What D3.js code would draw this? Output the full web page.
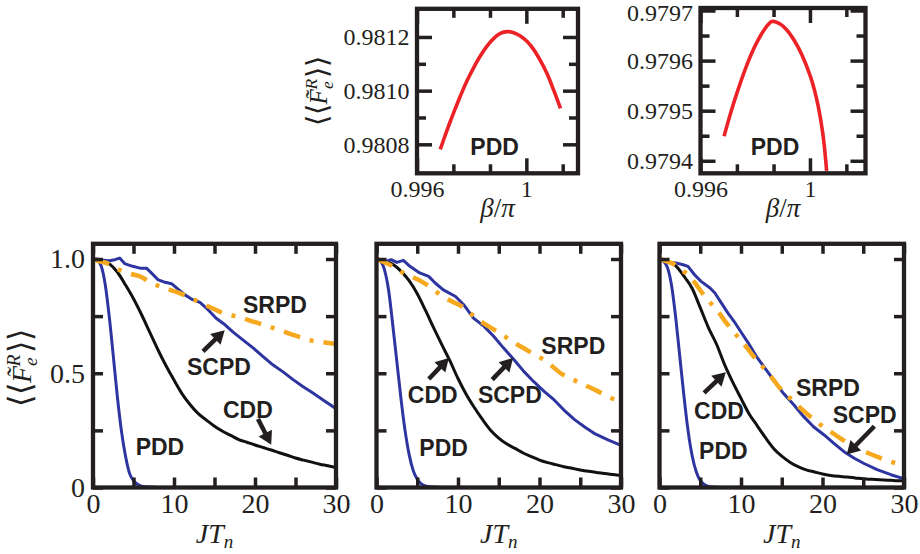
<!DOCTYPE html>
<html><head><meta charset="utf-8">
<script src="https://cdn.jsdelivr.net/npm/d3@7/dist/d3.min.js"></script>
<style>body{margin:0;background:#fff}svg{display:block}</style>
</head><body>
<script>
// ---------------- DATA ----------------
// Bottom panels: x = J*T_n, y = <<F_e^R>>
const pddA = [[0,1],[0.5,0.995],[1,0.97],[1.5,0.89],[2,0.75],[2.5,0.578],[3,0.40],[3.5,0.25],[4,0.14],[4.5,0.063],[5,0.03],[5.5,0.014],[6,0.006],[7,0.002],[8,0],[30,0]];
const cddA = [[0,1],[1,0.997],[2,0.98],[3,0.943],[4,0.887],[5,0.826],[6,0.756],[7,0.68],[8,0.604],[9,0.534],[10,0.47],[11,0.41],[12,0.362],[13,0.323],[14,0.295],[15,0.268],[16,0.246],[17,0.228],[18,0.21],[19,0.198],[20,0.186],[21,0.175],[22,0.164],[23,0.152],[24,0.141],[25,0.129],[26,0.12],[27,0.111],[28,0.102],[29,0.095],[30,0.087]];
const scpdA = [[0,1],[1.2,0.995],[2,0.992],[2.7,0.997],[3.3,1.004],[3.9,0.98],[4.9,0.968],[5.8,0.96],[6.6,0.96],[7.2,0.939],[8,0.91],[8.9,0.898],[9.7,0.892],[10.5,0.868],[11.3,0.844],[12.3,0.822],[13.2,0.81],[14.2,0.778],[15.2,0.741],[16.3,0.712],[17.3,0.68],[18.5,0.646],[19.8,0.61],[21,0.573],[22.2,0.537],[23.5,0.505],[24.7,0.472],[25.9,0.442],[27.2,0.412],[28.4,0.383],[30,0.345]];
const srpdA = [[0,1],[0.8,0.99],[1.7,0.982],[2.7,0.962],[3.7,0.946],[4.7,0.935],[5.8,0.924],[7,0.9],[8.2,0.88],[9.5,0.865],[10.7,0.851],[12,0.83],[13.2,0.81],[14.4,0.79],[15.6,0.77],[17,0.755],[18.5,0.741],[19.8,0.726],[21,0.712],[22.5,0.695],[23.9,0.678],[25.2,0.662],[26.5,0.646],[28,0.638],[30,0.628]];

const pddB = [[0,1],[0.5,0.99],[1,0.95],[1.5,0.86],[2,0.71],[2.5,0.55],[3,0.39],[3.5,0.25],[4,0.145],[4.5,0.075],[5,0.036],[5.5,0.016],[6,0.007],[7,0.002],[8,0],[30,0]];
const cddB = [[0,1],[1,0.993],[2,0.977],[3,0.947],[4,0.905],[5,0.848],[6,0.776],[7,0.7],[8,0.626],[9,0.555],[10,0.477],[11,0.408],[12,0.35],[13,0.298],[14,0.251],[15,0.216],[16,0.19],[17,0.171],[18,0.151],[19,0.135],[20,0.12],[21,0.109],[22,0.1],[23,0.091],[24,0.084],[25,0.077],[26,0.071],[27,0.066],[28,0.061],[29,0.057],[30,0.053]];
const scpdB = [[0,1],[0.6,0.993],[1.2,0.99],[1.8,0.997],[2.5,0.985],[3.3,0.994],[4.1,0.968],[5.3,0.939],[6.4,0.924],[7.2,0.895],[8.2,0.865],[9.7,0.836],[10.7,0.8],[11.9,0.741],[13.2,0.705],[14.4,0.661],[15.6,0.61],[16.9,0.558],[18.1,0.507],[19.3,0.463],[20.6,0.42],[21.8,0.383],[23,0.339],[24.3,0.297],[25.5,0.266],[26.7,0.237],[28.4,0.208],[30,0.184]];
const srpdB = [[0,1],[1,0.985],[2,0.968],[3,0.945],[3.7,0.931],[4.6,0.918],[5.5,0.902],[6.7,0.875],[7.8,0.844],[9.2,0.815],[10.5,0.792],[11.6,0.76],[12.8,0.727],[14,0.7],[15.2,0.675],[16.4,0.645],[17.7,0.617],[19,0.59],[20.2,0.566],[21.4,0.535],[22.6,0.5],[24,0.474],[25.5,0.449],[27,0.424],[28.4,0.398],[30,0.374]];

const pddC = [[0,1],[0.5,0.99],[1,0.96],[1.5,0.88],[2,0.74],[2.5,0.57],[3,0.40],[3.5,0.25],[4,0.14],[4.5,0.07],[5,0.03],[5.5,0.013],[6,0.005],[7,0.001],[8,0],[30,0]];
const cddC = [[0,1],[1,0.99],[2,0.97],[3,0.925],[4,0.872],[5,0.787],[6,0.70],[7,0.627],[8,0.537],[9,0.46],[10,0.39],[11,0.322],[12,0.27],[13,0.218],[14,0.171],[15,0.137],[16,0.111],[17,0.091],[18,0.077],[19,0.068],[20,0.059],[21,0.053],[22,0.049],[23,0.046],[24,0.042],[25,0.038],[26,0.036],[27,0.034],[28,0.032],[29,0.03],[30,0.029]];
const scpdC = [[0,1],[0.6,0.99],[1.2,0.985],[2.1,0.982],[2.9,0.975],[3.5,0.968],[4.3,0.931],[5.1,0.902],[6.2,0.873],[6.8,0.851],[7.6,0.807],[8.4,0.763],[9.3,0.719],[10.1,0.675],[10.9,0.632],[11.9,0.573],[12.8,0.529],[14,0.471],[15.2,0.412],[16.5,0.361],[17.7,0.31],[18.9,0.266],[20.2,0.23],[21.4,0.193],[22.6,0.158],[23.9,0.128],[25.1,0.105],[26.7,0.078],[28.4,0.056],[30,0.038]];
const srpdC = [[0,1],[0.9,0.99],[1.9,0.975],[2.8,0.95],[3.7,0.924],[4.4,0.893],[5.1,0.858],[6.2,0.81],[7.4,0.76],[8.1,0.725],[8.9,0.69],[10,0.643],[11.1,0.595],[12,0.553],[13,0.515],[13.9,0.475],[14.8,0.434],[16,0.392],[17.1,0.354],[18.3,0.316],[19.5,0.281],[20.9,0.247],[22.2,0.215],[23.5,0.187],[24.9,0.161],[26.4,0.139],[27.8,0.12],[30,0.096]];

// Insets: x = beta/pi, y = <<F_e^R>> (PDD)
const inset1X = [0.99685,0.99704,0.99722,0.9974,0.99759,0.99783,0.99808,0.99832,0.99856,0.99881,0.99905,0.99929,0.99954,0.99978,1.00003,1.00027,1.00051,1.00076,1.001,1.00125];
const inset1Y = [0.980781,0.980836,0.980886,0.980933,0.980981,0.981037,0.981087,0.981130,0.981166,0.981195,0.981213,0.981220,0.981216,0.981204,0.981183,0.981153,0.981113,0.981063,0.981002,0.980934];
const inset2X = [0.99686,0.99711,0.99733,0.99755,0.99778,0.998,0.9983,0.99861,0.99891,0.99914,0.99945,0.9997,1.00002,1.00016,1.00029,1.00038,1.00046,1.00052,1.00057,1.00061];
const inset2Y = [0.979449,0.979497,0.979535,0.97957,0.979603,0.97963,0.979659,0.979678,0.979673,0.979662,0.979638,0.979612,0.979568,0.979542,0.979512,0.979486,0.979458,0.979432,0.979404,0.97938];

// Ticks
const mainXTicks = [0,5,10,15,20,25,30];
const mainXLabels = [0,10,20,30];
const mainYTicks = [0,0.25,0.5,0.75,1];
const mainYLabels = [0,0.5,1];
const insetXMajor = [0.996,1.0];
const insetXMinor = [0.99733,0.99867,1.00133];
const inset1YMajor = [0.9808,0.981,0.9812];
const inset1YMinor = [0.9809,0.9811];
const inset2YMajor = [0.9794,0.9795,0.9796,0.9797];
const inset2YMinor = [0.97945,0.97955,0.97965];

// Annotations (data coordinates)
const labelsA = [["SRPD",18.52,0.764],["SCPD",11.6,0.494],["CDD",16.05,0.304],["PDD",5.27,0.144]];
const arrowsA = [[13.58,0.596,16.26,0.688],[20.37,0.30,22.0,0.187]];
const labelsB = [["SRPD",20.23,0.586],["SCPD",12.44,0.37],["CDD",3.84,0.37],["PDD",5.26,0.137]];
const arrowsB = [[6.42,0.475,8.88,0.567],[14.2,0.472,16.75,0.567]];
const labelsC = [["SRPD",16.75,0.399],["SCPD",21.25,0.282],["CDD",4.24,0.301],["PDD",4.86,0.125]];
const arrowsC = [[5.47,0.414,8.14,0.504],[26.37,0.268,22.97,0.144]];

// ---------------- DRAW ----------------
const INK = "#231f20";
const BLUE = "#2e35a0", BLACK = "#111", ORANGE = "#f6a81e", RED = "#ec2227";
const SERIF = "'Liberation Serif','Times New Roman',serif";
const SANS = "'Liberation Sans',Arial,sans-serif";

const svg = d3.select("body").append("svg").attr("width",920).attr("height",554);
const defs = svg.append("defs");
let clipId = 0;

function styleAxis(g, fs){
  g.attr("font-family",null).attr("font-size",null);
  g.select(".domain").remove();
  g.selectAll(".tick line").attr("stroke",INK).attr("stroke-width",3.5);
  g.selectAll(".tick text").attr("fill",INK).style("font-family",SERIF).style("font-size",fs+"px");
}

function frame(g, x0,x1,y0,y1){
  g.append("rect").attr("x",x0).attr("y",y1).attr("width",x1-x0).attr("height",y0-y1)
   .attr("fill","none").attr("stroke",INK).attr("stroke-width",4.3);
}

function clip(x0,x1,y0,y1){
  const id = "clip"+(clipId++);
  defs.append("clipPath").attr("id",id).append("rect").attr("x",x0).attr("y",y1).attr("width",x1-x0).attr("height",y0-y1);
  return "url(#"+id+")";
}

function arrow(g,x1,y1,x2,y2){
  const dx=x2-x1, dy=y2-y1, L=Math.hypot(dx,dy), ux=dx/L, uy=dy/L;
  const hl=13, hw=7.5;
  const bx=x2-ux*hl, by=y2-uy*hl;
  g.append("line").attr("x1",x1).attr("y1",y1).attr("x2",bx+ux*2).attr("y2",by+uy*2)
    .attr("stroke",INK).attr("stroke-width",4.5);
  g.append("polygon").attr("fill",INK)
    .attr("points",[[x2,y2],[bx-uy*hw,by+ux*hw],[bx+uy*hw,by-ux*hw]].map(p=>p.join(",")).join(" "));
}

function yTitle(g, cx, cy, fs){
  const t = g.append("text").attr("transform",`translate(${cx},${cy}) rotate(-90)`)
    .attr("text-anchor","middle").style("font-family",SERIF).style("font-size",fs+"px").attr("fill",INK);
  t.append("tspan").style("font-size",(fs*1.15)+"px").text("\u27E8\u27E8");
  t.append("tspan").style("font-style","italic").text("F\u0303");
  t.append("tspan").style("font-style","italic").style("font-size",(fs*0.7)+"px").attr("dy",fs*0.22).text("e");
  t.append("tspan").style("font-style","italic").style("font-size",(fs*0.7)+"px").attr("dx",-fs*0.33).attr("dy",-fs*0.62).text("R");
  t.append("tspan").style("font-size",(fs*1.15)+"px").attr("dy",fs*0.4).attr("dx",fs*0.05).text("\u27E9\u27E9");
}

const panels = [
  {x0:93, x1:336, pdd:pddA, cdd:cddA, scpd:scpdA, srpd:srpdA, labels:labelsA, arrows:arrowsA, yLab:true},
  {x0:376.5, x1:621, pdd:pddB, cdd:cddB, scpd:scpdB, srpd:srpdB, labels:labelsB, arrows:arrowsB, yLab:false},
  {x0:659.5, x1:904, pdd:pddC, cdd:cddC, scpd:scpdC, srpd:srpdC, labels:labelsC, arrows:arrowsC, yLab:false}
];
const Y0 = 487.5, Y1 = 243.8;

panels.forEach(p=>{
  const g = svg.append("g");
  const x = d3.scaleLinear().domain([0,30]).range([p.x0,p.x1]);
  const y = d3.scaleLinear().domain([0,(Y0-Y1)/228.5]).range([Y0,Y1]);
  const line = d3.line().x(d=>x(d[0])).y(d=>y(d[1]));
  const cg = g.append("g").attr("clip-path",clip(p.x0,p.x1,Y0,Y1));
  cg.append("path").datum(p.pdd).attr("d",line.curve(d3.curveMonotoneX)).attr("fill","none").attr("stroke",BLUE).attr("stroke-width",3);
  cg.append("path").datum(p.cdd).attr("d",line.curve(d3.curveMonotoneX)).attr("fill","none").attr("stroke",BLACK).attr("stroke-width",3);
  cg.append("path").datum(p.scpd).attr("d",line.curve(d3.curveLinear)).attr("fill","none").attr("stroke",BLUE).attr("stroke-width",3).attr("stroke-linejoin","round");
  cg.append("path").datum(p.srpd).attr("d",line.curve(d3.curveMonotoneX)).attr("fill","none").attr("stroke",ORANGE).attr("stroke-width",4.5)
    .attr("stroke-dasharray","17,10,4,10");

  // axes
  g.append("g").attr("transform",`translate(0,${Y0})`)
    .call(d3.axisBottom(x).tickValues(mainXTicks).tickSize(-10).tickPadding(6)
      .tickFormat(d=>mainXLabels.includes(d)?String(d):""))
    .call(a=>styleAxis(a,28));
  g.append("g").attr("transform",`translate(0,${Y1})`)
    .call(d3.axisTop(x).tickValues(mainXTicks).tickSize(-10).tickFormat(""))
    .call(a=>styleAxis(a,28));
  g.append("g").attr("transform",`translate(${p.x0},0)`)
    .call(d3.axisLeft(y).tickValues(mainYTicks).tickSize(-10).tickPadding(8)
      .tickFormat(d=>p.yLab && mainYLabels.includes(d)? (d===0?"0":d3.format(".1f")(d)) : ""))
    .call(a=>styleAxis(a,28));
  g.append("g").attr("transform",`translate(${p.x1},0)`)
    .call(d3.axisRight(y).tickValues(mainYTicks).tickSize(-10).tickFormat(""))
    .call(a=>styleAxis(a,28));
  frame(g,p.x0,p.x1,Y0,Y1);

  // annotations
  p.labels.forEach(l=>{
    g.append("text").attr("x",x(l[1])).attr("y",y(l[2])).text(l[0])
      .style("font-family",SANS).style("font-weight","bold").style("font-size","23px").attr("fill",INK);
  });
  p.arrows.forEach(a=>arrow(g,x(a[0]),y(a[1]),x(a[2]),y(a[3])));

  // x title
  const t = g.append("text").attr("x",(p.x0+p.x1)/2).attr("y",543).attr("text-anchor","middle")
    .style("font-family",SERIF).style("font-size","28px").style("font-style","italic").attr("fill",INK);
  t.append("tspan").text("JT");
  t.append("tspan").style("font-size","19px").attr("dy",5).text("n");
});
yTitle(svg, 31, 368, 28);

// insets
const insets = [
  {x0:417, x1:578, y0:173.3, y1:8.8, xd:[0.996,1.00189], yd:[0.980692,0.981305], X:inset1X, Y:inset1Y,
   yMaj:inset1YMajor, yMin:inset1YMinor, lab:[0.99795,0.980761]},
  {x0:700.5, x1:865.5, y0:173.3, y1:8, xd:[0.996,1.00203], yd:[0.979375,0.979705], X:inset2X, Y:inset2Y,
   yMaj:inset2YMajor, yMin:inset2YMinor, lab:[0.997835,0.979411]}
];
insets.forEach((s,i)=>{
  const g = svg.append("g");
  const x = d3.scaleLinear().domain(s.xd).range([s.x0,s.x1]);
  const y = d3.scaleLinear().domain(s.yd).range([s.y0,s.y1]);
  const pts = s.X.map((v,k)=>[v,s.Y[k]]);
  g.append("g").attr("clip-path",clip(s.x0,s.x1,s.y0,s.y1))
   .append("path").datum(pts)
   .attr("d",d3.line().x(d=>x(d[0])).y(d=>y(d[1])).curve(d3.curveCatmullRom.alpha(0.5)))
   .attr("fill","none").attr("stroke",RED).attr("stroke-width",3.6);
  const fs = 24;
  g.append("g").attr("transform",`translate(0,${s.y0})`)
    .call(d3.axisBottom(x).tickValues(insetXMajor).tickSize(-15).tickPadding(7).tickFormat(d=>d===1?"1":d3.format(".3f")(d)))
    .call(a=>styleAxis(a,fs));
  g.append("g").attr("transform",`translate(0,${s.y0})`)
    .call(d3.axisBottom(x).tickValues(insetXMinor).tickSize(-9).tickFormat(""))
    .call(a=>styleAxis(a,fs));
  g.append("g").attr("transform",`translate(0,${s.y1})`)
    .call(d3.axisTop(x).tickValues(insetXMajor).tickSize(-15).tickFormat(""))
    .call(a=>styleAxis(a,fs));
  g.append("g").attr("transform",`translate(0,${s.y1})`)
    .call(d3.axisTop(x).tickValues(insetXMinor).tickSize(-9).tickFormat(""))
    .call(a=>styleAxis(a,fs));
  g.append("g").attr("transform",`translate(${s.x0},0)`)
    .call(d3.axisLeft(y).tickValues(s.yMaj).tickSize(-15).tickPadding(7.5).tickFormat(d3.format(".4f")))
    .call(a=>styleAxis(a,fs))
    .call(a=>a.selectAll(".tick text").filter(d=>y(d)<20).attr("dy","0.42em"));
  g.append("g").attr("transform",`translate(${s.x0},0)`)
    .call(d3.axisLeft(y).tickValues(s.yMin).tickSize(-9).tickFormat(""))
    .call(a=>styleAxis(a,fs));
  g.append("g").attr("transform",`translate(${s.x1},0)`)
    .call(d3.axisRight(y).tickValues(s.yMaj).tickSize(-15).tickFormat(""))
    .call(a=>styleAxis(a,fs));
  g.append("g").attr("transform",`translate(${s.x1},0)`)
    .call(d3.axisRight(y).tickValues(s.yMin).tickSize(-9).tickFormat(""))
    .call(a=>styleAxis(a,fs));
  frame(g,s.x0,s.x1,s.y0,s.y1);
  g.append("text").attr("x",x(s.lab[0])).attr("y",y(s.lab[1])).text("PDD")
    .style("font-family",SANS).style("font-weight","bold").style("font-size","23px").attr("fill",INK);
  const t = g.append("text").attr("x",(s.x0+s.x1)/2).attr("y",217).attr("text-anchor","middle")
    .style("font-family",SERIF).style("font-size","27px").attr("fill",INK);
  t.append("tspan").style("font-style","italic").text("\u03B2");
  t.append("tspan").text("/");
  t.append("tspan").style("font-style","italic").text("\u03C0");
});
yTitle(svg, 327, 91, 25);
</script>
</body></html>
